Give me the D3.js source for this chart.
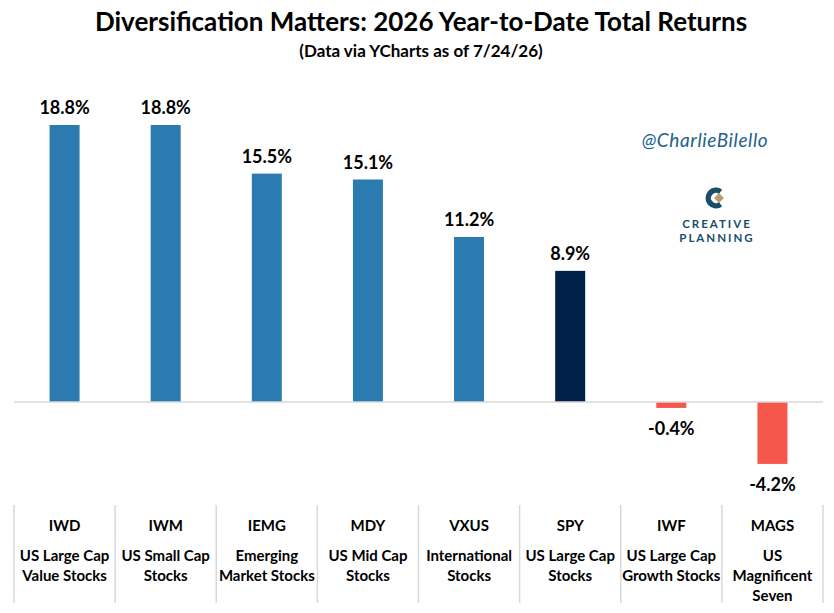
<!DOCTYPE html>
<html>
<head>
<meta charset="utf-8">
<script src="https://cdn.jsdelivr.net/npm/d3@7"></script>
<style>
  body { margin: 0; background: #fff; }
  svg { display: block; font-family: Lato, "Liberation Sans", sans-serif; }
</style>
</head>
<body>
<div id="chart"></div>
<script>
// data
const tickers = ["IWD", "IWM", "IEMG", "MDY", "VXUS", "SPY", "IWF", "MAGS"];
const descriptions = [
  ["US Large Cap", "Value Stocks"],
  ["US Small Cap", "Stocks"],
  ["Emerging", "Market Stocks"],
  ["US Mid Cap", "Stocks"],
  ["International", "Stocks"],
  ["US Large Cap", "Stocks"],
  ["US Large Cap", "Growth Stocks"],
  ["US", "Magnificent", "Seven"]
];
const returns = [18.8, 18.8, 15.5, 15.1, 11.2, 8.9, -0.4, -4.2];

const data = tickers.map((t, i) => ({ticker: t, desc: descriptions[i], value: returns[i]}));

const width = 834, height = 613;

const svg = d3.select("#chart")
  .append("svg")
    .attr("width", width)
    .attr("height", height);

// scales
const x = d3.scaleBand()
  .domain(tickers)
  .range([14, 823]);

const y = d3.scaleLinear()
  .domain([-5, 20])
  .range([475.7, 107.3]);

const barWidth = 30;

const barColor = d => {
  if (d.value < 0) return "#f5574a";
  if (d.ticker === "SPY") return "#00204a";
  return "#2c7bb0";
};

// title
svg.append("text")
  .attr("x", 421)
  .attr("y", 31)
  .attr("text-anchor", "middle")
  .style("font-size", "26px")
  .style("font-weight", "bold")
  .attr("fill", "#000")
  .text("Diversification Matters: 2026 Year-to-Date Total Returns");

svg.append("text")
  .attr("x", 421)
  .attr("y", 57)
  .attr("text-anchor", "middle")
  .style("font-size", "17px")
  .style("font-weight", "bold")
  .attr("fill", "#000")
  .text("(Data via YCharts as of 7/24/26)");

// bars
svg.append("g")
  .selectAll("rect")
  .data(data)
  .enter()
  .append("rect")
    .attr("x", d => x(d.ticker) + x.bandwidth() / 2 - barWidth / 2)
    .attr("y", d => y(Math.max(0, d.value)))
    .attr("width", barWidth)
    .attr("height", d => Math.abs(y(d.value) - y(0)))
    .attr("fill", barColor);

// zero line
svg.append("line")
  .attr("x1", 14)
  .attr("x2", 823)
  .attr("y1", y(0))
  .attr("y2", y(0))
  .attr("stroke", "#d9d9d9")
  .attr("stroke-width", 1.5);

// value labels
svg.append("g")
  .selectAll("text")
  .data(data)
  .enter()
  .append("text")
    .attr("x", d => x(d.ticker) + x.bandwidth() / 2)
    .attr("y", d => d.value >= 0 ? y(d.value) - 11 : y(d.value) + 27)
    .attr("text-anchor", "middle")
    .style("font-size", "18px")
    .style("font-weight", "bold")
    .attr("fill", "#000")
    .text(d => d.value.toFixed(1) + "%");

// category table below
const table = svg.append("g");

table.selectAll("line")
  .data(x.domain().concat(["end"]))
  .enter()
  .append("line")
    .attr("x1", (d, i) => i < tickers.length ? x(d) : x.range()[1])
    .attr("x2", (d, i) => i < tickers.length ? x(d) : x.range()[1])
    .attr("y1", 505)
    .attr("y2", 603)
    .attr("stroke", "#d9d9d9")
    .attr("stroke-width", 1.5);

const cell = table.selectAll("g.cell")
  .data(data)
  .enter()
  .append("g")
    .attr("class", "cell")
    .attr("transform", d => "translate(" + (x(d.ticker) + x.bandwidth() / 2) + ",0)");

cell.append("text")
  .attr("y", 531)
  .attr("text-anchor", "middle")
  .style("font-size", "15px")
  .style("font-weight", "bold")
  .attr("fill", "#000")
  .text(d => d.ticker);

cell.selectAll("text.desc")
  .data(d => d.desc)
  .enter()
  .append("text")
    .attr("class", "desc")
    .attr("y", (d, i) => 561 + i * 20)
    .attr("text-anchor", "middle")
    .style("font-size", "15px")
    .style("font-weight", "bold")
    .attr("fill", "#000")
    .text(d => d);

// watermark
svg.append("text")
  .attr("x", 705)
  .attr("y", 147)
  .attr("text-anchor", "middle")
  .style("font-size", "19px")
  .style("font-style", "italic")
  .style("letter-spacing", "0.6px")
  .attr("fill", "#22618c")
  .text("@CharlieBilello");

// creative planning logo
const logo = svg.append("g").attr("transform", "translate(716,198)");

const arc = d3.arc()
  .innerRadius(5)
  .outerRadius(10.5)
  .startAngle(Math.PI * 0.8)
  .endAngle(Math.PI * 2.2);

logo.append("path")
  .attr("d", arc())
  .attr("fill", "#1b4d6b");

logo.append("rect")
  .attr("x", -3.5)
  .attr("y", -3.5)
  .attr("width", 7)
  .attr("height", 7)
  .attr("transform", "translate(3,0) rotate(45)")
  .attr("fill", "#b79b73");

svg.append("text")
  .attr("x", 717)
  .attr("y", 228)
  .attr("text-anchor", "middle")
  .style("font-size", "11.5px")
  .style("font-weight", "bold")
  .style("letter-spacing", "2px")
  .attr("fill", "#1b4d6b")
  .text("CREATIVE");

svg.append("text")
  .attr("x", 717)
  .attr("y", 242)
  .attr("text-anchor", "middle")
  .style("font-size", "11.5px")
  .style("font-weight", "bold")
  .style("letter-spacing", "2px")
  .attr("fill", "#1b4d6b")
  .text("PLANNING");
</script>
</body>
</html>
